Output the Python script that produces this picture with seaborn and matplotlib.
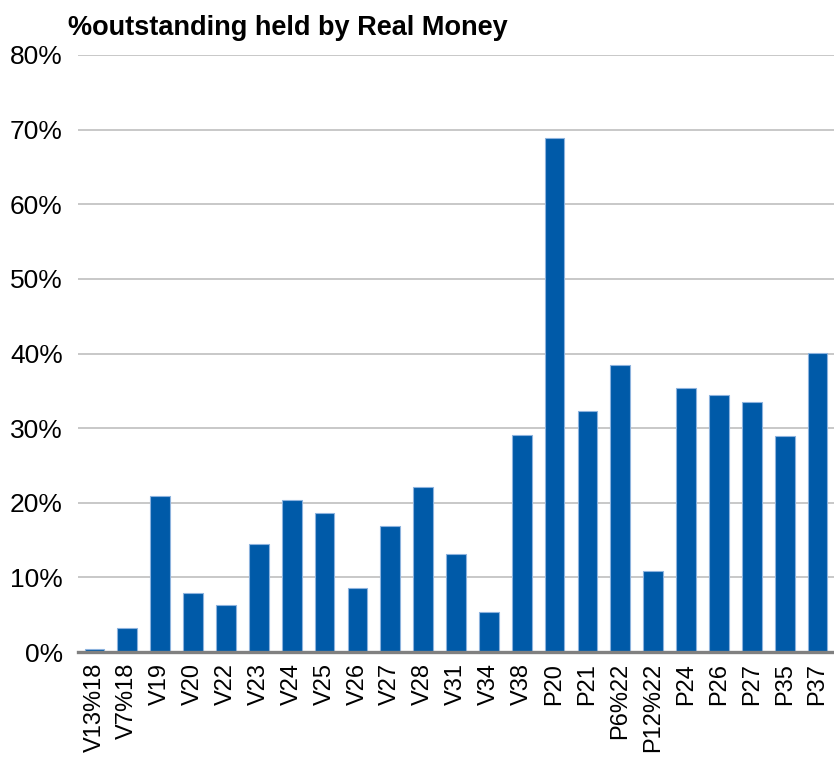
import matplotlib
matplotlib.use("Agg")
import matplotlib.pyplot as plt
import seaborn as sns
import pandas as pd
from matplotlib.ticker import FuncFormatter

categories = ["V13%18", "V7%18", "V19", "V20", "V22", "V23", "V24", "V25", "V26",
              "V27", "V28", "V31", "V34", "V38", "P20", "P21", "P6%22", "P12%22",
              "P24", "P26", "P27", "P35", "P37"]
values = [0.4, 3.2, 20.9, 7.9, 6.3, 14.5, 20.4, 18.6, 8.6,
          16.9, 22.1, 13.1, 5.4, 29.1, 68.9, 32.3, 38.4, 10.9,
          35.4, 34.5, 33.5, 29.0, 40.1]
yticks = [0, 10, 20, 30, 40, 50, 60, 70, 80]
title = "%outstanding held by Real Money"

sns.set_style("white")
plt.rcParams['font.family'] = ['Liberation Sans', 'DejaVu Sans']
plt.rcParams['text.color'] = 'black'

df = pd.DataFrame({"cat": categories, "val": values})

fig = plt.figure(figsize=(8.34, 7.6), dpi=100)
ax = fig.add_axes([78/834, 1 - 652/760, (834 - 78)/834, (652 - 55)/760])

sns.barplot(data=df, x="cat", y="val", color="#005AA8", width=0.6,
            edgecolor="#8DB3DE", linewidth=0.8, saturation=1, ax=ax)

ax.set_ylim(0, 80)
ax.set_xlim(-0.5, len(categories) - 0.5)
ax.set_yticks(yticks)
ax.yaxis.set_major_formatter(FuncFormatter(lambda v, p: f"{int(v)}%"))
ax.grid(axis="y", color="#C4C4C4", linewidth=1.3)
ax.set_axisbelow(True)
for s in ["top", "right", "left"]:
    ax.spines[s].set_visible(False)
ax.spines["bottom"].set_color("#808080")
ax.spines["bottom"].set_linewidth(2.4)
ax.set_xlabel("")
ax.set_ylabel("")
ax.tick_params(axis="y", length=0, pad=11, labelsize=19, labelcolor="black")
ax.tick_params(axis="x", length=0, pad=8, labelsize=17, labelcolor="black", rotation=90)

fig.text(68/834, 1 - 28/760, title, fontsize=19.5, fontweight="bold", va="center",
         ha="left", color="black")

fig.savefig("out.png", dpi=100)
